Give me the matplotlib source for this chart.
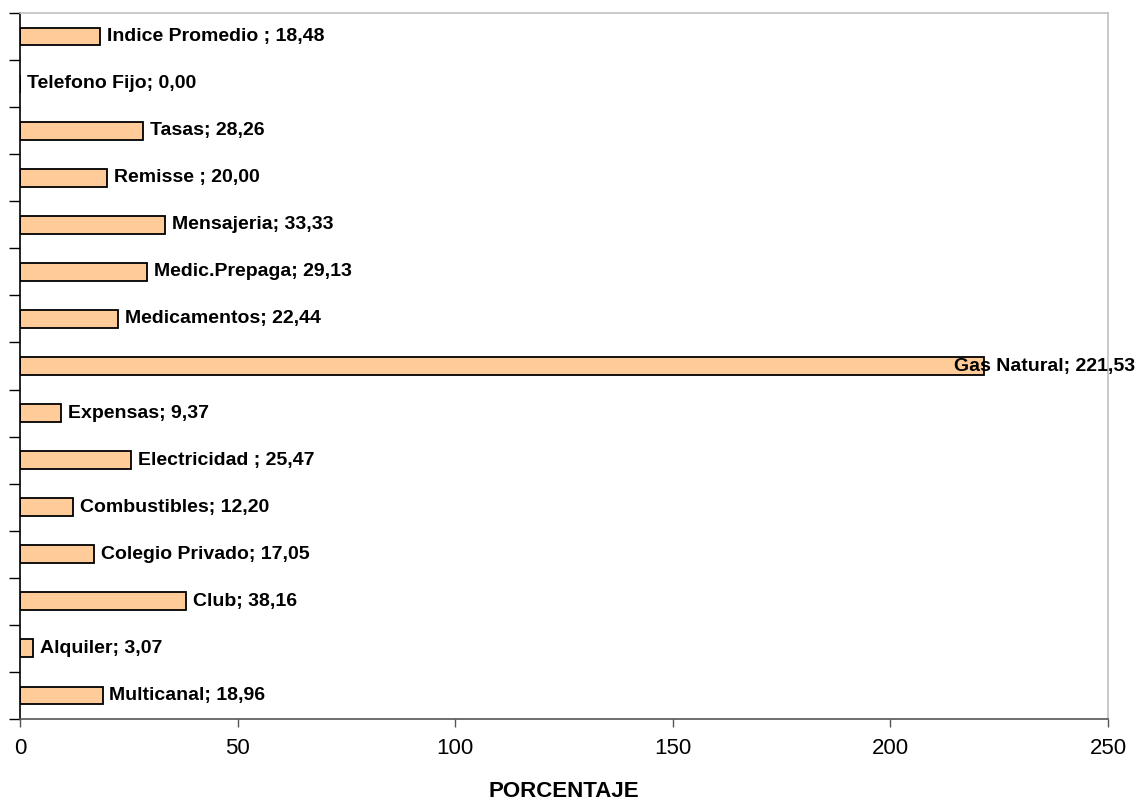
import matplotlib
matplotlib.use("Agg")
import matplotlib.pyplot as plt
from matplotlib.transforms import blended_transform_factory

categories = ["Multicanal", "Alquiler", "Club", "Colegio Privado", "Combustibles",
              "Electricidad ", "Expensas", "Gas Natural", "Medicamentos",
              "Medic.Prepaga", "Mensajeria", "Remisse ", "Tasas", "Telefono Fijo",
              "Indice Promedio "]
values = [18.96, 3.07, 38.16, 17.05, 12.20, 25.47, 9.37, 221.53, 22.44,
          29.13, 33.33, 20.00, 28.26, 0.00, 18.48]
xticks = [0, 50, 100, 150, 200, 250]

plt.rcParams['font.family'] = ['Liberation Sans', 'DejaVu Sans']

W, H = 1136, 800
fig = plt.figure(figsize=(W / 100, H / 100), dpi=100)
ax = fig.add_axes([20 / W, 1 - 719 / H, (1108 - 20) / W, (719 - 13) / H])

pos = list(range(len(categories)))
ax.barh(pos, values, height=0.38, color="#FFCC99", edgecolor="black", linewidth=1.3)

ax.set_xlim(0, 250)
ax.set_ylim(-0.5, len(categories) - 0.5)
ax.set_xticks(xticks)
ax.set_xticklabels([str(t) for t in xticks], fontsize=16)
ax.set_yticks([i - 0.5 for i in range(len(categories) + 1)])
ax.set_yticklabels([])
ax.tick_params(axis='y', direction='out', length=8, width=1, color='black')
ax.tick_params(axis='x', direction='out', length=6, width=1, color='#555555', pad=8)

ax.spines['top'].set_color('#c0c0c0')
ax.spines['right'].set_color('#c0c0c0')
ax.spines['bottom'].set_color('#555555')
ax.spines['left'].set_color('black')
for s in ax.spines.values():
    s.set_linewidth(1.2)

trans = blended_transform_factory(fig.transFigure, ax.transData)
for p, name, v in zip(pos, categories, values):
    label = f"{name}; " + f"{v:.2f}".replace('.', ',')
    if v > 200:
        ax.text(1135 / W, p, label, transform=trans,
                ha='right', va='center', fontsize=14, fontweight='bold', clip_on=False)
    else:
        ax.annotate(label, xy=(v, p), xytext=(5, 0), textcoords='offset points',
                    ha='left', va='center', fontsize=14, fontweight='bold')

fig.text(564 / W, 1 - 781 / H, "PORCENTAJE", ha='center', va='top',
         fontsize=16, fontweight='bold')

fig.savefig("out.png", dpi=100)
